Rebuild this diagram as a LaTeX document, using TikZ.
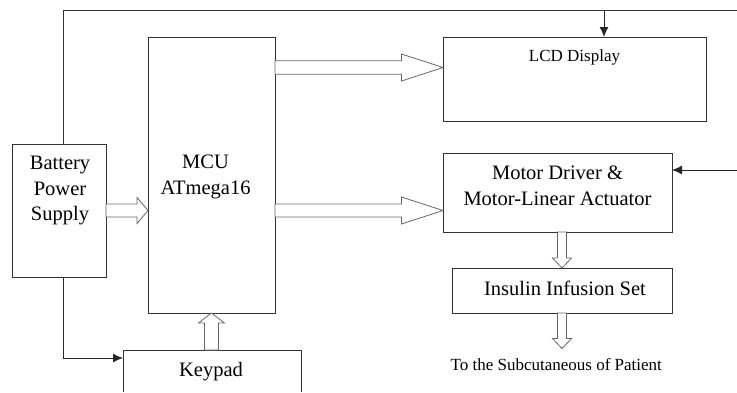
\documentclass[tikz,border=0pt]{standalone}
\usepackage{fontspec}
\setmainfont{Liberation Serif}
\usetikzlibrary{arrows.meta, calc}

\tikzset{
  blk/.style={draw=black!80, line width=.9pt, inner sep=0pt, outer sep=0pt},
  txt/.style={font=\fontsize{20.5}{25.5}\selectfont, align=center, anchor=base, inner sep=0pt},
  small/.style={font=\fontsize{17}{21}\selectfont},
  sig/.style={draw=black!85, line width=.9pt, -{Latex[length=10pt,width=9pt]}},
  % block arrow: shaft half width, head half width, head length
  hollow/.style n args={3}{draw=black!60, fill=white, line width=.8pt,
    to path={let \p1=(\tikztostart), \p2=(\tikztotarget),
      \n1={veclen(\x2-\x1,\y2-\y1)} in
      ({\x1-#1*(\y2-\y1)/\n1},{\y1+#1*(\x2-\x1)/\n1})
      -- ({\x2-#3*(\x2-\x1)/\n1-#1*(\y2-\y1)/\n1},{\y2-#3*(\y2-\y1)/\n1+#1*(\x2-\x1)/\n1})
      -- ({\x2-#3*(\x2-\x1)/\n1-#2*(\y2-\y1)/\n1},{\y2-#3*(\y2-\y1)/\n1+#2*(\x2-\x1)/\n1})
      -- (\p2)
      -- ({\x2-#3*(\x2-\x1)/\n1+#2*(\y2-\y1)/\n1},{\y2-#3*(\y2-\y1)/\n1-#2*(\x2-\x1)/\n1})
      -- ({\x2-#3*(\x2-\x1)/\n1+#1*(\y2-\y1)/\n1},{\y2-#3*(\y2-\y1)/\n1-#1*(\x2-\x1)/\n1})
      -- ({\x1+#1*(\y2-\y1)/\n1},{\y1-#1*(\x2-\x1)/\n1}) -- cycle}}
}

\begin{document}
\begin{tikzpicture}[x=1pt, y=-1pt]
  \useasboundingbox (0,0) rectangle (737,392);

  % Blocks of the pump
  \node[blk, minimum width=94, minimum height=133] (batt) at (59,210.5) {};
  \node[blk, minimum width=127, minimum height=276] (mcu) at (211.5,175) {};
  \node[blk, minimum width=263, minimum height=84] (lcd) at (574.5,79) {};
  \node[blk, minimum width=229, minimum height=79] (motor) at (557.5,192.5) {};
  \node[blk, minimum width=220, minimum height=45] (insulin) at (562,290.5) {};
  \node[minimum width=178, minimum height=42, inner sep=0pt, outer sep=0pt] (keypad) at (212,371) {};
  \draw[blk] (keypad.south west) |- (keypad.north east) -- (keypad.south east);

  % Labels (base = last line)
  \node[txt] (batt-txt) at (60,220.7) {Battery\\Power\\Supply};
  \node[txt] (mcu-txt) at (205.5,194) {MCU\\ATmega16};
  \node[txt] (keypad-txt) at (211,376.7) {Keypad};
  \node[txt, small] (lcd-txt) at (574.5,61) {LCD Display};
  \node[txt] (motor-txt) at (557.5,205) {Motor Driver \&\\Motor-Linear Actuator};
  \node[txt] (insulin-txt) at (565,295.7) {Insulin Infusion Set};
  \node[txt, small, inner ysep=10pt] (patient) at (556.3,370.7) {To the Subcutaneous of Patient};

  % Power lines
  \coordinate (topR) at (737,10);
  \coordinate (tap) at (604,10);
  \coordinate (rightin) at (737,170);
  \draw[blk] ($(batt.north)+(4.5,0)$) |- (topR);
  \draw[sig] (tap) -- (tap |- lcd.north);
  \draw[sig] (rightin) -- (rightin -| motor.east);
  \draw[sig] ($(batt.south)+(4.5,0)$) |- ($(keypad.north west)+(0,8)$);

  % Data flow
  \draw[hollow={6.5}{13}{11}] (batt.east) to (mcu.west |- batt.east);
  \draw[hollow={6.7}{13.5}{41.5}] (mcu.east |- 0,67.5) to (lcd.west |- 0,67.5);
  \draw[hollow={6.5}{13.5}{41.5}] (mcu.east |- batt.east) to (motor.west |- batt.east);
  \draw[hollow={7}{13}{10}] (keypad.north -| mcu.south) to (mcu.south);
  \draw[hollow={4.5}{9.5}{10}] (motor.south -| insulin.north) to (insulin.north);
  \draw[hollow={4.5}{9.5}{10}] (insulin.south) to (insulin.south |- patient.north);
\end{tikzpicture}
\end{document}
